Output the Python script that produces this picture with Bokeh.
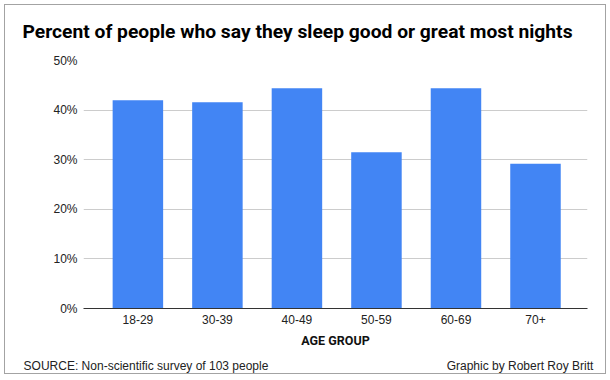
from bokeh.plotting import figure
from bokeh.models import Range1d, FixedTicker, Title, LinearAxis
from bokeh.embed import file_html
from bokeh.resources import INLINE

# ---- data ----
categories = ["18-29", "30-39", "40-49", "50-59", "60-69", "70+"]
percent_good = [42.0, 41.6, 44.4, 31.5, 44.4, 29.2]
y_ticks = [0, 10, 20, 30, 40, 50]
y_tick_labels = ["0%", "10%", "20%", "30%", "40%", "50%"]

title_text = "Percent of people who say they sleep good or great most nights"
x_title = "AGE GROUP"
source_text = "SOURCE: Non-scientific survey of 103 people"
credit_text = "Graphic by Robert Roy Britt"

# ---- layout ----
W, H = 610, 378
ML, MR, MT, MB = 83, 23, 60, 70
FW, FH = W - ML - MR, H - MT - MB
X0 = -0.684
X1 = X0 + FW / 79.52
Y0, Y1 = 0, 50
HEAD = "Roboto"
BODY = "Liberation Sans"

xs = list(range(len(categories)))

frame_css = (":host { box-shadow: inset 0 0 0 4px #ffffff, inset 0 0 0 5px #a3a3a3; "
             "background-color: #ffffff; }")
p = figure(width=W, height=H, output_backend="svg", toolbar_location=None,
           x_range=Range1d(X0, X1), y_range=Range1d(Y0, Y1),
           min_border_left=ML, min_border_right=MR,
           min_border_top=MT, min_border_bottom=MB)
p.styles = {"box-shadow": "inset 0 0 0 4px #ffffff, inset 0 0 0 5px #a3a3a3",
            "background-color": "#ffffff"}
p.stylesheets = [frame_css]
p.outline_line_color = None
p.background_fill_color = "white"
p.border_fill_alpha = 0

p.vbar(x=xs, top=percent_good, bottom=0, width=0.635, color="#4285F4", line_color=None)

# axes
p.xaxis.ticker = FixedTicker(ticks=xs)
p.xaxis.major_label_overrides = {i: c for i, c in enumerate(categories)}
p.xaxis.axis_line_color = "#333333"
p.xaxis.axis_line_width = 1
p.xaxis.major_tick_line_color = None
p.xaxis.major_tick_out = 0
p.xaxis.major_tick_in = 0
p.xaxis.minor_tick_line_color = None
p.xaxis.major_label_standoff = 6
p.xaxis.major_label_text_font = BODY
p.xaxis.major_label_text_font_size = "12px"
p.xaxis.major_label_text_color = "#222222"
p.xaxis.axis_label = x_title
p.xaxis.axis_label_text_font = HEAD
p.xaxis.axis_label_text_font_style = "bold"
p.xaxis.axis_label_text_font_size = "12.5px"
p.xaxis.axis_label_text_color = "#111111"
p.xaxis.axis_label_standoff = 6

p.yaxis.ticker = FixedTicker(ticks=y_ticks)
p.yaxis.major_label_overrides = {t: l for t, l in zip(y_ticks, y_tick_labels)}
p.yaxis.axis_line_color = None
p.yaxis.major_tick_line_color = None
p.yaxis.major_tick_out = 0
p.yaxis.major_tick_in = 0
p.yaxis.minor_tick_line_color = None
p.yaxis.major_label_standoff = 6
p.yaxis.major_label_text_font = BODY
p.yaxis.major_label_text_font_size = "12px"
p.yaxis.major_label_text_color = "#222222"

p.xgrid.grid_line_color = None
p.ygrid.ticker = FixedTicker(ticks=y_ticks)
p.ygrid.grid_line_color = "#cccccc"
p.ygrid.grid_line_width = 1

# title above the frame
p.add_layout(Title(text=title_text, align="left", offset=-61, standoff=35,
                   text_font=HEAD, text_font_style="bold", text_font_size="19.25px",
                   text_color="#000000"), "above")

# footer line: source (left) and credit (right) as labels of a bare axis below
def dx(fx):
    return X0 + (fx - ML) * (X1 - X0) / FW

src_center = dx(23 + 245 / 2)
cred_center = dx(594 - 149 / 2)
footer = LinearAxis(ticker=FixedTicker(ticks=[src_center, cred_center]),
                    major_label_overrides={src_center: source_text, cred_center: credit_text},
                    axis_line_color=None, major_tick_line_color=None,
                    minor_tick_line_color=None, major_tick_out=0, major_tick_in=0,
                    major_label_standoff=8, major_label_text_font=BODY,
                    major_label_text_font_size="12px", major_label_text_color="#222222")
p.add_layout(footer, "below")

open("out.html", "w").write(file_html(p, INLINE))
